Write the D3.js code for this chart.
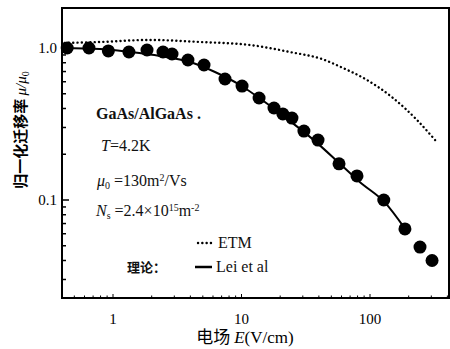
<!DOCTYPE html>
<html>
<head>
<meta charset="utf-8">
<script src="https://cdn.jsdelivr.net/npm/d3@7"></script>
<style>
  body { margin: 0; background: #fff; }
</style>
</head>
<body>
<svg id="chart" width="450" height="349"></svg>
<script>
// measured points, E (V/cm) vs mu/mu0
const measE = [0.44, 0.65, 0.92, 1.33, 1.84, 2.45, 2.88, 3.83, 5.11, 7.44, 10.1, 13.7,
  17.9, 21.0, 24.7, 30.6, 39.4, 57.4, 79.2, 128, 187, 245, 304];
const measMu = [1.0, 1.0, 0.956, 0.941, 0.97, 0.941, 0.913, 0.834, 0.773, 0.625, 0.562, 0.469,
  0.403, 0.368, 0.346, 0.284, 0.248, 0.173, 0.144, 0.1, 0.0645, 0.049, 0.040];

// theory: Lei et al (solid)
const leiE = [0.4, 0.79, 1.36, 2.32, 3.97, 6.22, 9.73, 15.2, 23.8, 37.3, 58.4, 83.6, 131, 184];
const leiMu = [1.0, 0.985, 0.941, 0.886, 0.809, 0.695, 0.571, 0.441, 0.331, 0.244, 0.173, 0.131, 0.096, 0.066];

// theory: ETM (dotted)
const etmE = [0.42, 0.79, 1.94, 4.75, 11.6, 23.8, 42.3, 61.6, 94.8, 151, 232, 321];
const etmMu = [1.08, 1.095, 1.13, 1.095, 1.047, 0.941, 0.846, 0.739, 0.616, 0.469, 0.336, 0.248];

const xTicks = [1, 10, 100];
const yTicks = [0.1, 1];
const yTickLabels = ["0.1", "1.0"];

const SERIF = "'Liberation Serif', 'Times New Roman', 'DejaVu Serif', serif";
const CJK = "'Noto Sans CJK SC', sans-serif";

const svg = d3.select("#chart");

const x = d3.scaleLog().domain([1, 100]).range([113, 370]);
const y = d3.scaleLog().domain([0.1, 1]).range([200, 48]);

const pLeft = 62, pRight = 449, pTop = 8, pBottom = 298;

// frame
svg.append("rect")
  .attr("x", pLeft).attr("y", pTop)
  .attr("width", pRight - pLeft).attr("height", pBottom - pTop)
  .style("fill", "none")
  .style("stroke", "#000")
  .style("stroke-width", 2);

// y ticks (inside, left)
const yMinor = [];
[0.01, 0.1, 1].forEach((d) => {
  for (let k = 1; k < 10; k++) yMinor.push(d * k);
});
svg.append("g")
  .selectAll("line")
  .data(yMinor.filter((v) => y(v) > pTop && y(v) < pBottom))
  .enter()
  .append("line")
  .attr("x1", pLeft)
  .attr("x2", (d) => pLeft + (Math.abs(Math.log10(d) % 1) < 1e-9 ? 7 : 4))
  .attr("y1", (d) => y(d))
  .attr("y2", (d) => y(d))
  .style("stroke", "#000")
  .style("stroke-width", 1.5);

// x ticks (inside, bottom)
const xMinor = [];
[0.1, 1, 10, 100].forEach((d) => {
  for (let k = 1; k < 10; k++) xMinor.push(d * k);
});
svg.append("g")
  .selectAll("line")
  .data(xMinor.filter((v) => x(v) > pLeft && x(v) < pRight))
  .enter()
  .append("line")
  .attr("x1", (d) => x(d))
  .attr("x2", (d) => x(d))
  .attr("y1", pBottom)
  .attr("y2", (d) => pBottom - (Math.abs(Math.log10(d) % 1) < 1e-9 ? 4 : 2.5))
  .style("stroke", "#000")
  .style("stroke-width", 1);

// tick labels
svg.append("g")
  .selectAll("text")
  .data(xTicks)
  .enter()
  .append("text")
  .attr("x", (d) => x(d))
  .attr("y", 324)
  .attr("text-anchor", "middle")
  .style("font-family", SERIF)
  .style("font-size", "15px")
  .text((d) => d);

svg.append("g")
  .selectAll("text")
  .data(yTicks)
  .enter()
  .append("text")
  .attr("x", 57)
  .attr("y", (d) => y(d) + 5)
  .attr("text-anchor", "end")
  .style("font-family", SERIF)
  .style("font-size", "15px")
  .text((d, i) => yTickLabels[i]);

// axis titles
const yl = svg.append("text")
  .attr("transform", "translate(26,130) rotate(-90)")
  .attr("text-anchor", "middle")
  .style("font-family", SERIF)
  .style("font-size", "15px");
yl.append("tspan").style("font-family", CJK).style("font-weight", 700).text("归一化迁移率 ");
yl.append("tspan").style("font-style", "italic").text("μ/μ");
yl.append("tspan").style("font-size", "10px").attr("dy", 3).text("0");

const xl = svg.append("text")
  .attr("x", 245)
  .attr("y", 343)
  .attr("text-anchor", "middle")
  .style("font-family", SERIF)
  .style("font-size", "17px");
xl.append("tspan").style("font-family", CJK).text("电场 ");
xl.append("tspan").style("font-style", "italic").text("E");
xl.append("tspan").text("(V/cm)");

// curves
const line = d3.line()
  .x((d) => x(d[0]))
  .y((d) => y(d[1]))
  .curve(d3.curveMonotoneX);

svg.append("path")
  .datum(etmE.map((e, i) => [e, etmMu[i]]))
  .attr("d", line)
  .style("fill", "none")
  .style("stroke", "#000")
  .style("stroke-width", 2.4)
  .style("stroke-linecap", "round")
  .style("stroke-dasharray", "0.1,4.2");

svg.append("path")
  .datum(leiE.map((e, i) => [e, leiMu[i]]))
  .attr("d", line)
  .style("fill", "none")
  .style("stroke", "#000")
  .style("stroke-width", 2);

// measured points
svg.append("g")
  .selectAll("circle")
  .data(measE.map((e, i) => [e, measMu[i]]))
  .enter()
  .append("circle")
  .attr("cx", (d) => x(d[0]))
  .attr("cy", (d) => y(d[1]))
  .attr("r", 6.5)
  .style("fill", "#000");

// annotations
const ann = svg.append("g")
  .style("font-family", SERIF)
  .style("font-size", "16px")
  .style("fill", "#111");
ann.append("text").attr("x", 96).attr("y", 119).style("font-weight", 700).text("GaAs/AlGaAs .");
const t1 = ann.append("text").attr("x", 101).attr("y", 151);
t1.append("tspan").style("font-style", "italic").text("T");
t1.append("tspan").text("=4.2K");
const t2 = ann.append("text").attr("x", 97).attr("y", 186);
t2.append("tspan").style("font-style", "italic").text("μ");
t2.append("tspan").style("font-size", "10px").attr("dy", 3).text("0");
t2.append("tspan").attr("dy", -3).text(" =130m");
t2.append("tspan").style("font-size", "10px").attr("dy", -5).text("2");
t2.append("tspan").attr("dy", 5).text("/Vs");
const t3 = ann.append("text").attr("x", 96).attr("y", 216);
t3.append("tspan").style("font-style", "italic").text("N");
t3.append("tspan").style("font-size", "10px").attr("dy", 3).text("s");
t3.append("tspan").attr("dy", -3).text(" =2.4×10");
t3.append("tspan").style("font-size", "10px").attr("dy", -5).text("15");
t3.append("tspan").attr("dy", 5).text("m");
t3.append("tspan").style("font-size", "10px").attr("dy", -5).text("-2");

// legend
ann.append("text").attr("x", 127).attr("y", 272)
  .style("font-family", CJK).style("font-weight", 700)
  .style("font-size", "13px").text("理论：");
ann.append("line")
  .attr("x1", 198).attr("x2", 212).attr("y1", 243).attr("y2", 243)
  .style("stroke", "#000").style("stroke-width", 2.4)
  .style("stroke-linecap", "round").style("stroke-dasharray", "0.1,4.2");
ann.append("text").attr("x", 218).attr("y", 248).text("ETM");
ann.append("line")
  .attr("x1", 195).attr("x2", 212).attr("y1", 267).attr("y2", 267)
  .style("stroke", "#000").style("stroke-width", 2.5);
ann.append("text").attr("x", 216).attr("y", 272).text("Lei et al");
</script>
</body>
</html>
